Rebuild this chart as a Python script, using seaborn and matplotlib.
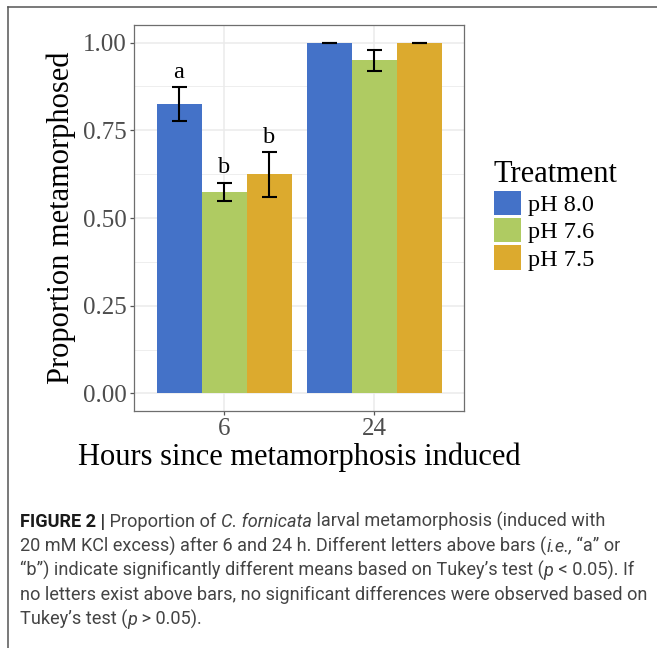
import matplotlib
matplotlib.use("Agg")
import matplotlib.pyplot as plt
from matplotlib.lines import Line2D
import seaborn as sns
import pandas as pd
import numpy as np

# ---- data ----
hours = ["6", "24"]
treatments = ["pH 8.0", "pH 7.6", "pH 7.5"]
mean_6h = [0.824, 0.574, 0.624]
mean_24h = [1.0, 0.951, 1.0]
low_6h = [0.777, 0.549, 0.561]
low_24h = [1.0, 0.920, 1.0]
high_6h = [0.873, 0.600, 0.688]
high_24h = [1.0, 0.979, 1.0]
letters_6h = ["a", "b", "b"]
letters_24h = ["", "", ""]
y_ticks = [0.0, 0.25, 0.50, 0.75, 1.00]
y_tick_labels = ["0.00", "0.25", "0.50", "0.75", "1.00"]

colors = ["#4472C8", "#AFCB62", "#DCAA2E"]

rows = []
for h, means, lows, highs, lets in [("6", mean_6h, low_6h, high_6h, letters_6h),
                                     ("24", mean_24h, low_24h, high_24h, letters_24h)]:
    for t, m, lo, hi, le in zip(treatments, means, lows, highs, lets):
        rows.append(dict(Hours=h, Treatment=t, Proportion=m, low=lo, high=hi, letter=le))
df = pd.DataFrame(rows)

W, H = 657, 648
fig = plt.figure(figsize=(W / 100, H / 100), dpi=100)
serif = ["Liberation Serif", "DejaVu Serif"]

ax = fig.add_axes([134 / W, 1 - 411 / H, 330 / W, 386 / H])
sns.barplot(data=df, x="Hours", y="Proportion", hue="Treatment", order=hours,
            hue_order=treatments, palette=colors, errorbar=None, width=0.9,
            linewidth=0, saturation=1, ax=ax, legend=True, zorder=3)

# error bars and letters, positioned from the drawn bars
for cont, t in zip(ax.containers, treatments):
    for bar, h in zip(cont, hours):
        r = df[(df.Treatment == t) & (df.Hours == h)].iloc[0]
        xc = bar.get_x() + bar.get_width() / 2
        ax.errorbar([xc], [r.Proportion],
                    yerr=[[r.Proportion - r.low], [r.high - r.Proportion]],
                    fmt="none", ecolor="black", elinewidth=1.5, capsize=5.4,
                    capthick=1.5, zorder=4)
        if r.letter:
            ax.text(xc, r.high + 0.027, r.letter, ha="center", va="baseline",
                    fontsize=17.5, family=serif, color="black", zorder=5)

ax.set_xlim(-0.6, 1.6)
ax.set_ylim(-0.05, 1.05)
ax.set_yticks(y_ticks)
ax.set_yticklabels(y_tick_labels)
ax.set_yticks([0.125, 0.375, 0.625, 0.875], minor=True)
ax.set_facecolor("white")
ax.grid(True, which="major", color="#EBEBEB", linewidth=1.1, zorder=0)
ax.grid(True, which="minor", axis="y", color="#EBEBEB", linewidth=0.6, zorder=0)
ax.set_axisbelow(True)
for s in ax.spines.values():
    s.set_color("#6E6E6E")
    s.set_linewidth(0.9)
ax.tick_params(axis="both", which="major", length=3, width=0.9, color="#555555",
               labelcolor="#4D4D4D", labelsize=18, pad=2)
ax.tick_params(axis="both", which="minor", length=0)
for lab in ax.get_xticklabels() + ax.get_yticklabels():
    lab.set_family(serif)

ax.set_xlabel("Hours since metamorphosis induced", fontsize=22, family=serif,
              color="black", labelpad=2)
ax.set_ylabel("Proportion metamorphosed", fontsize=22, family=serif,
              color="black", labelpad=5)

# legend
handles, labels = ax.get_legend_handles_labels()
if ax.legend_:
    ax.legend_.remove()
leg = fig.legend(handles, labels, title="Treatment", loc="upper left",
                 bbox_to_anchor=(494 / W, 1 - 160 / H), frameon=False,
                 prop={"family": serif, "size": 17.5},
                 title_fontproperties={"family": serif, "size": 22},
                 handlelength=1.11, handleheight=1.15, handletextpad=0.3,
                 labelspacing=0.08, borderpad=0, borderaxespad=0,
                 alignment="left")

# figure frame (panel border of the published figure)
fig.add_artist(Line2D([8 / W, 8 / W], [0, 1 - 6.5 / H], transform=fig.transFigure,
                      color="#555555", linewidth=1.1))
fig.add_artist(Line2D([8 / W, 1], [1 - 6.5 / H, 1 - 6.5 / H], transform=fig.transFigure,
                      color="#555555", linewidth=1.1))

# caption
cap_font = ["Roboto", "Liberation Sans", "DejaVu Sans"]
plain = dict(family=cap_font, fontweight="normal", color="#444444")
bold = dict(family=cap_font, fontweight="bold", color="#1a1a1a")
ital = dict(family=cap_font, fontweight="normal", style="italic", color="#444444")
caption_lines = [
    [("FIGURE 2 |", bold), (" Proportion of ", plain), ("C. fornicata", ital),
     (" larval metamorphosis (induced with", plain)],
    [("20 mM KCl excess) after 6 and 24 h. Different letters above bars (", plain),
     ("i.e.,", ital), (" \u201ca\u201d or", plain)],
    [("\u201cb\u201d) indicate significantly different means based on Tukey\u2019s test (", plain),
     ("p", ital), (" < 0.05). If", plain)],
    [("no letters exist above bars, no significant differences were observed based on", plain)],
    [("Tukey\u2019s test (", plain), ("p", ital), (" > 0.05).", plain)],
]
renderer = fig.canvas.get_renderer()
# fit caption size so the full 4th line spans the measured width
probe = fig.text(0, 0, caption_lines[3][0][0], fontsize=12, **plain)
w12 = probe.get_window_extent(renderer).width
probe.remove()
cap_size = 12 * 627 / w12
y0 = 527
for i, runs in enumerate(caption_lines):
    x = 20
    yb = y0 + 24.4 * i
    for txt, st in runs:
        t = fig.text(x / W, 1 - yb / H, txt, fontsize=cap_size, va="baseline",
                     ha="left", **st)
        x += t.get_window_extent(renderer).width

fig.savefig("out.png", dpi=100)
